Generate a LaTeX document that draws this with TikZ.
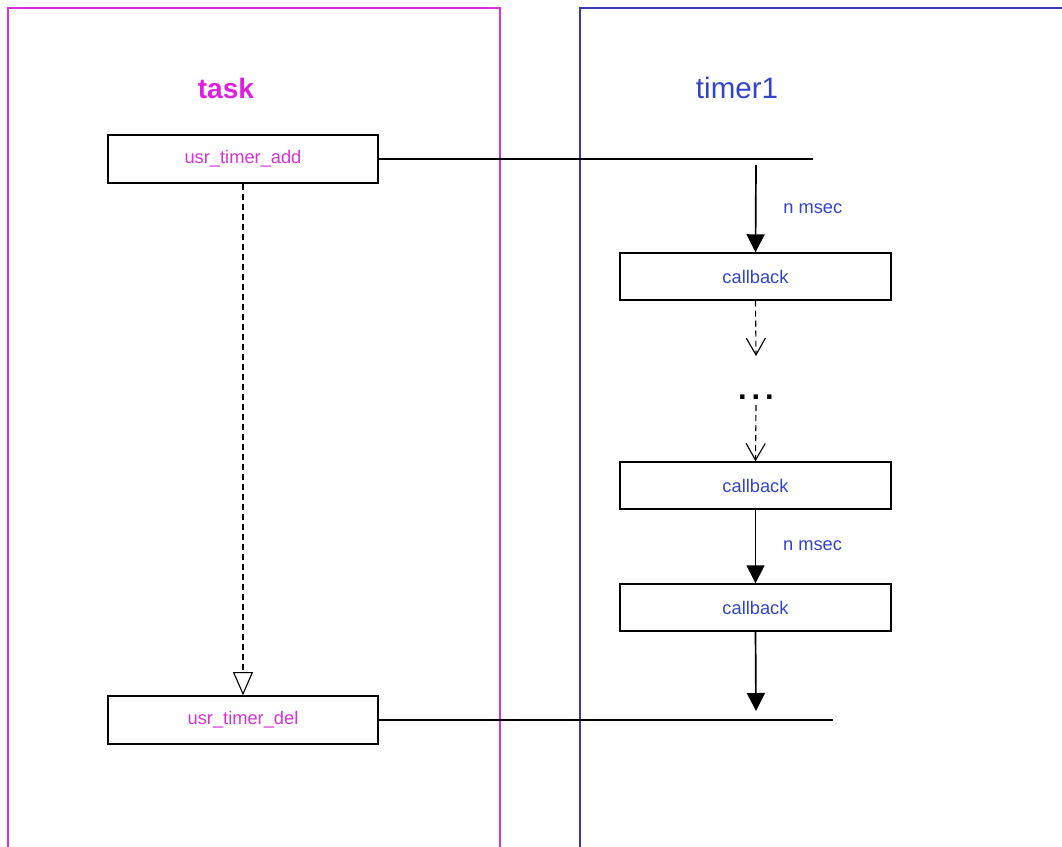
\documentclass[tikz,border=0pt]{standalone}
\usepackage{fontspec}
\setmainfont{Liberation Sans}
\usetikzlibrary{positioning, arrows.meta}

\definecolor{taskpink}{HTML}{D633D6}
\definecolor{tasktext}{HTML}{DD22DD}
\definecolor{timerblue}{HTML}{3838B0}
\definecolor{timertext}{HTML}{3344CC}

\begin{document}
\begin{tikzpicture}[
    x=0.025cm, y=-0.025cm,
    every node/.style={font=\fontsize{13}{15}\selectfont},
    funcbox/.style={draw, line width=1pt, minimum width=6.75cm, minimum height=1.2cm, inner sep=0pt, text=taskpink},
    cbbox/.style={draw, line width=1pt, minimum width=6.775cm, minimum height=1.175cm, inner sep=0pt, text=timertext},
    tick/.style={-{Triangle[width=0.45cm, length=0.45cm]}, line width=1.2pt},
    waitline/.style={-{Straight Barb[width=0.48cm, length=0.42cm]}, dash pattern=on 0.15cm off 0.1cm, line width=0.8pt},
    lifeline/.style={-{Triangle[open, width=0.5cm, length=0.58cm]}, dash pattern=on 0.15cm off 0.1cm, line width=0.8pt}
]
\useasboundingbox (0,0) rectangle (1062,846);

% Lanes
\draw[taskpink, line width=1.2pt] (8,850) -- (8,8) -- (500,8) -- (500,850);
\draw[timerblue, line width=1.2pt] (580,850) -- (580,8) -- (1062,8);
\node (tasktitle) [text=tasktext, font=\fontsize{20}{24}\selectfont\bfseries] at (226,88) {task};
\node (timertitle) [text=timertext, font=\fontsize{21}{25}\selectfont] at (737,88) {timer1};

% Nodes
\node (add) [funcbox] at (243,159) {usr\_timer\_add};
\node (del) [funcbox] at (243,720) {usr\_timer\_del};
\node (cbone) [cbbox] at (755.5,276.5) {callback};
\node (dots) [inner sep=1pt, font=\fontsize{22}{24}\selectfont\bfseries] at (756,397) {.\hspace{3.5pt}.\hspace{3.5pt}.};
\node (cbtwo) [cbbox] at (755.5,485.5) {callback};
\node (cbthree) [cbbox] at (755.5,607.5) {callback};

\coordinate (addend) at (813,159);
\coordinate (start) at (756,165);
\coordinate (gap) at (756,356);
\coordinate (delend) at (833,720);
\coordinate (stop) at (756,711);

% Arrows
\draw[line width=1pt] (add.east) -- (addend);
\draw[line width=1pt] (del.east) -- (delend);
\draw[lifeline] (add.south) -- (del.north);
\draw[tick] (start) -- (cbone.north) node[midway, right=0.55cm, text=timertext] {n msec};
\draw[waitline] (cbone.south) -- (gap);
\draw[waitline] (756,405) -- (cbtwo.north);
\draw[tick] (cbtwo.south) -- (cbthree.north) node[midway, right=0.55cm, text=timertext, yshift=0.02cm] {n msec};
\draw[tick] (cbthree.south) -- (stop);

\end{tikzpicture}
\end{document}
